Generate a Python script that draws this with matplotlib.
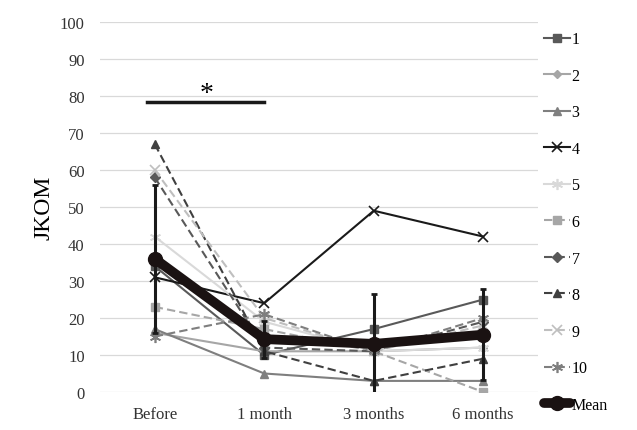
import matplotlib
matplotlib.use("Agg")
import matplotlib.pyplot as plt
import numpy as np

categories = ["Before", "1 month", "3 months", "6 months"]
s1 = [34, 10, 17, 25]
s2 = [16, 11, 11, 12]
s3 = [17, 5, 3, 3]
s4 = [31, 24, 49, 42]
s5 = [42, 19, 11, 12]
s6 = [23, 17, 11, 0]
s7 = [58, 12, 11, 19]
s8 = [67, 11, 3, 9]
s9 = [60, 20, 11, 18]
s10 = [15, 21, 11, 20]
mean = [36, 14.3, 13, 15.5]
sd = [20, 5, 13.5, 12.3]
series_labels = ["1", "2", "3", "4", "5", "6", "7", "8", "9", "10"]
yticks = list(range(0, 101, 10))
sig_text = "*"
sig_level = 78.5

plt.rcParams['font.family'] = ['Liberation Serif', 'DejaVu Serif']

fig = plt.figure(figsize=(6.37, 4.31), dpi=100)
ax = fig.add_axes([100/637, 1-393/431, 438/637, 370/431])

styles = [
    dict(color="#595959", ls="-", marker="s", ms=5.5),
    dict(color="#A6A6A6", ls="-", marker="D", ms=4.5),
    dict(color="#7F7F7F", ls="-", marker="^", ms=6),
    dict(color="#1a1a1a", ls="-", marker="x", ms=7, mew=1.2),
    dict(color="#D9D9D9", ls="-", marker=(6, 2, 0), ms=8, mew=1.2),
    dict(color="#A6A6A6", ls="--", marker="s", ms=6),
    dict(color="#595959", ls="--", marker="D", ms=5),
    dict(color="#404040", ls="--", marker="^", ms=6),
    dict(color="#BFBFBF", ls="--", marker="x", ms=7, mew=1.2),
    dict(color="#7F7F7F", ls="--", marker=(6, 2, 0), ms=8, mew=1.2),
]
data = [s1, s2, s3, s4, s5, s6, s7, s8, s9, s10]
x = np.arange(len(categories))
handles = []
for vals, st, lab in zip(data, styles, series_labels):
    h, = ax.plot(x, vals, lw=1.5, label=lab, dashes=(4, 2) if st["ls"] == "--" else (None, None), **{k: v for k, v in st.items() if k != "ls"}, zorder=3)
    handles.append(h)

ax.errorbar(x, mean, yerr=sd, fmt="none", ecolor="#1a1a1a", elinewidth=2.2, capsize=2.5, capthick=2, zorder=4)
hm, = ax.plot(x, mean, color="#1a1212", lw=7, marker="o", ms=10, label="Mean", zorder=5, solid_capstyle="round")
handles.append(hm)

ax.plot([-0.07, 1.0], [sig_level, sig_level], color="#1a1a1a", lw=2.5, zorder=3)
ax.text(0.47, sig_level - 1.3, sig_text, ha="center", va="bottom", fontsize=20)

ax.set_xlim(-0.5, 3.5)
ax.set_ylim(0, 100)
ax.set_yticks(yticks)
ax.set_xticks(x)
ax.set_xticklabels(categories)
ax.tick_params(axis="both", length=0, labelsize=12, colors="#333333")
ax.tick_params(axis="y", pad=11)
ax.tick_params(axis="x", pad=10)
ax.grid(axis="y", color="#D9D9D9", lw=0.9)
ax.set_axisbelow(True)
for sp in ax.spines.values():
    sp.set_visible(False)
ax.set_ylabel("JKOM", fontsize=17, labelpad=4)

fig.legend(handles=handles, loc="upper left", bbox_to_anchor=(538/637, 1-26/431), frameon=False,
           fontsize=11.5, labelspacing=1.285, handlelength=1.6, handletextpad=0.1, borderaxespad=0)

fig.savefig("out.png", dpi=100)
